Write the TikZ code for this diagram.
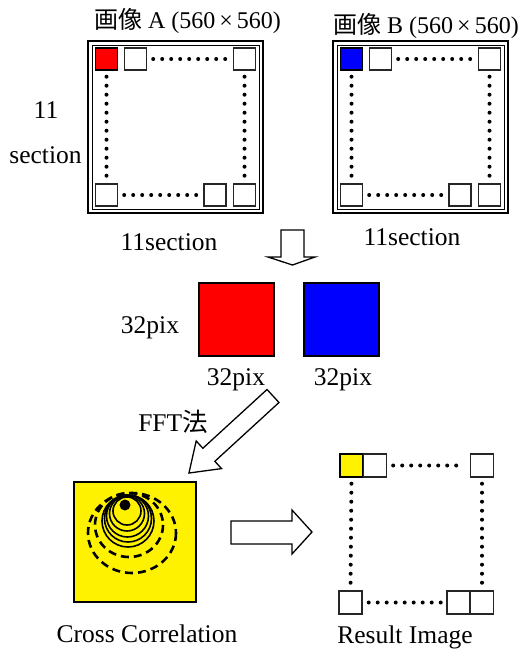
\documentclass[tikz,border=0pt]{standalone}
\usepackage{fontspec}
\setmainfont{Liberation Serif}
\newfontfamily\jp{Noto Sans CJK JP}
\usetikzlibrary{calc}
\tikzset{
  cell/.style={draw=black!85, line width=1.4pt, minimum size=22pt, inner sep=0pt, fill=white},
  bigcell/.style={draw=black, line width=2.5pt, inner sep=0pt, minimum size=73pt},
  dotline/.style={line width=4pt, line cap=round, dash pattern=on 0pt off 9pt, shorten <=6pt, shorten >=5pt},
  lbl/.style={anchor=base, inner sep=0pt, font=\fontsize{25.5}{30}\selectfont},
  ttl/.style={anchor=base, inner sep=0pt, font=\fontsize{24}{28}\selectfont},
  blockarrow/.style={draw=black, line width=1.3pt, fill=white, line join=miter},
  circ/.style={line width=1.6pt},
  dcirc/.style={line width=2.6pt, dash pattern=on 8pt off 5pt},
  pics/imgrid/.style={code={
    \draw[line width=2.5pt] (0,0) rectangle (175,172);
    \draw[line width=0.9pt] (4,4) rectangle (171,168);
    \node[cell, fill=#1, draw=black] (-s1) at (18.5,18) {};
    \node[cell] (-s2) at (47.5,18) {};
    \node[cell] (-s3) at (156.5,18) {};
    \node[cell] (-b1) at (18.5,154) {};
    \node[cell] (-b2) at (127,154) {};
    \node[cell] (-b3) at (156.5,154) {};
    \draw[dotline] (-s2.east) -- (-s3.west);
    \draw[dotline] (-s1.south) -- (-b1.north);
    \draw[dotline] (-s3.south) -- (-b3.north);
    \draw[dotline] (-b1.east) -- (-b2.west);
  }}
}
\begin{document}
\begin{tikzpicture}[x=1pt,y=-1pt]
\useasboundingbox (0,0) rectangle (525,649);

% image A and B
\pic (A) at (88,41) {imgrid=red};
\pic (B) at (333,41) {imgrid=blue};

\node[ttl] (tA) at (187.5,28) {{\jp 画像} A (560\,×\,560)};
\node[ttl] (tB) at (426,33) {{\jp 画像} B (560\,×\,560)};

\node[lbl] (l11) at (46,118) {11};
\node[lbl] (lsec) at (45.5,163) {section};
\node[lbl] (lA) at (169,250) {11section};
\node[lbl] (lB) at (412,245) {11section};

% down arrow
\draw[blockarrow] (281,230) -- (304,230) -- (304,257) -- (315,257) -- (292.5,265)
  -- (268,257) -- (281,257) -- cycle;

% 32pix squares
\node[bigcell, fill=red, minimum width=75pt, minimum height=73pt] (red) at (236.5,319.5) {};
\node[bigcell, fill=blue, minimum width=75pt, minimum height=73pt] (blue) at (341.5,319.5) {};
\node[lbl] (p0) at (150,333) {32pix};
\node[lbl] (p1) at (236,385) {32pix};
\node[lbl] (p2) at (343,385) {32pix};

% FFT arrow
\begin{scope}[shift={(273,396)}, rotate=222.5]
  \draw[blockarrow] (0,-8.85) -- (87,-8.85) -- (87,-18.75) -- (114,0)
     -- (87,18.75) -- (87,8.85) -- (0,8.85) -- cycle;
\end{scope}
\node[lbl] (fft) at (173,431) {FFT{\jp 法}};

% cross correlation
\node[draw=black, line width=2.2pt, fill=yellow, minimum width=122pt, minimum height=120pt, inner sep=0pt] (cc) at (135,542) {};
\draw[dcirc] (132,533) ellipse [x radius=44, y radius=40];
\draw[dcirc] (129,525) ellipse [x radius=34, y radius=32];
\draw[circ] (128,521) circle [radius=26];
\draw[circ] (128,518.5) circle [radius=23.5];
\draw[circ] (127.5,516) circle [radius=21];
\draw[circ] (127,513.5) circle [radius=17.5];
\draw[circ] (127,511) circle [radius=14];
\fill (125,505) circle [radius=5.5];
\node[lbl] (lcc) at (147,642) {Cross Correlation};

% right arrow
\draw[blockarrow] (231,521) -- (292,521) -- (292,510) -- (312,532) -- (292,554)
  -- (292,544) -- (231,544) -- cycle;

% result image
\node[cell, fill=yellow, minimum size=23pt, draw=black] (r1) at (351.5,465.5) {};
\node[cell, minimum size=23pt] (r2) at (375,465.5) {};
\node[cell, minimum size=23pt] (r3) at (482,465.5) {};
\node[cell, minimum size=23pt] (r4) at (350.5,602.5) {};
\node[cell, minimum size=23pt] (r5) at (458.5,602.5) {};
\node[cell, minimum size=23pt] (r6) at (482,602.5) {};
\draw[dotline] (r2.east) -- (r3.west);
\draw[dotline] (r1.south) -- (r4.north);
\draw[dotline] (r3.south) -- (r6.north);
\draw[dotline] (r4.east) -- (r5.west);
\node[lbl] (lri) at (405,643) {Result Image};
\end{tikzpicture}
\end{document}
